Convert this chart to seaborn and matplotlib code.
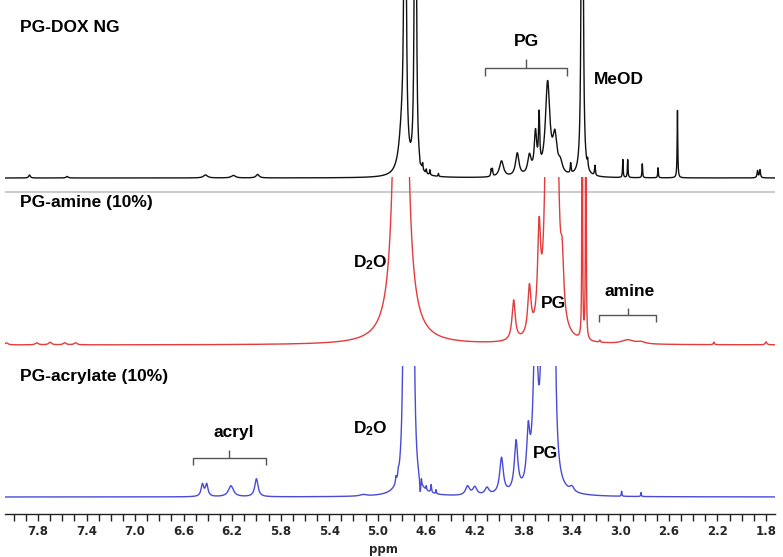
import numpy as np
import matplotlib
matplotlib.use('Agg')
import matplotlib.pyplot as plt
import seaborn as sns

sns.set_style("white")
plt.rcParams['font.family'] = ['Liberation Sans', 'DejaVu Sans']
plt.rcParams['mathtext.fontset'] = 'custom'
plt.rcParams['mathtext.bf'] = 'Liberation Sans:bold'
plt.rcParams['mathtext.rm'] = 'Liberation Sans:bold'

# peak tables: shift (ppm), height, half width (ppm)
dox_shift = [7.87, 7.56, 6.42, 6.19, 5.99, 4.80, 4.775, 4.69, 4.65, 4.63, 4.60, 4.57, 4.50,
             4.065, 4.055, 3.98, 3.85, 3.75, 3.70, 3.67, 3.60, 3.54, 3.495, 3.41,
             3.315, 3.27, 3.21, 2.98, 2.94, 2.82, 2.69, 2.53, 1.87, 1.85]
dox_height = [3, 1.5, 3, 2.5, 3.5, 40, 800, 1000, -4, 6, 4, 5, 3,
              7, 7, 16, 23, 19, 40, 52, 92, 35, 10, 10,
              1500, 8, 10, 18, 18, 14, 10, 68, 7, 8]
dox_width = [0.008, 0.01, 0.02, 0.02, 0.015, 0.03, 0.006, 0.005, 0.004, 0.003, 0.003, 0.003, 0.003,
             0.004, 0.004, 0.02, 0.017, 0.017, 0.012, 0.006, 0.022, 0.02, 0.02, 0.004,
             0.004, 0.004, 0.004, 0.003, 0.003, 0.003, 0.003, 0.003, 0.005, 0.005]

amine_shift = [8.06, 7.81, 7.70, 7.58, 7.49, 4.81,
               3.88, 3.75, 3.67, 3.60, 3.565, 3.53, 3.48, 3.315, 3.285, 3.17,
               2.94, 2.83, 2.23, 1.80]
amine_height = [2, 2, 2.5, 2, 2, 3300,
                40, 48, 93, 350, 60, 300, 52, 1000, 1000, 2,
                4, 2, 2.5, 3]
amine_width = [0.015, 0.015, 0.015, 0.015, 0.015, 0.0165,
               0.016, 0.016, 0.015, 0.019, 0.02, 0.02, 0.015, 0.0015, 0.0015, 0.005,
               0.06, 0.04, 0.005, 0.008]

acr_shift = [6.445, 6.41, 6.21, 6.00, 5.12, 4.85, 4.83, 4.77, 4.775, 4.745, 4.715,
             4.65, 4.64, 4.60, 4.56, 4.52, 4.26, 4.20, 4.10,
             3.98, 3.86, 3.76, 3.70, 3.64, 3.58, 3.55, 3.40, 2.99, 2.83]
acr_height = [12, 12, 11, 18, 1.5, 6, 5, 25, 800, 300, 800,
              -14, 6, 4, 8, 4, 9, 8, 7,
              36, 50, 50, 170, 220, 400, 300, 5, 5, 4]
acr_width = [0.013, 0.013, 0.025, 0.016, 0.03, 0.004, 0.004, 0.01, 0.008, 0.01, 0.008,
             0.005, 0.003, 0.003, 0.004, 0.003, 0.02, 0.02, 0.02,
             0.018, 0.017, 0.015, 0.02, 0.015, 0.015, 0.012, 0.02, 0.003, 0.003]

ppm = np.linspace(8.07, 1.72, 8000)


def spectrum(shift, height, width):
    y = np.zeros_like(ppm)
    for s, h, w in zip(shift, height, width):
        y += h * w**2 / (w**2 + (ppm - s)**2)
    return y


W, H = 783, 557
fig = plt.figure(figsize=(W / 100, H / 100), dpi=100)


def rect(top, bottom):
    return [5 / W, 1 - bottom / H, 770 / W, (bottom - top) / H]


XLIM = (8.072, 1.726)
ax_dox = fig.add_axes(rect(0, 200))
ax_amine = fig.add_axes(rect(177, 362))
ax_acr = fig.add_axes(rect(366, 514))
ax_dox.set_ylim(-22, 178)
ax_amine.set_ylim(-17, 168)
ax_acr.set_ylim(-17, 131)

for ax in (ax_dox, ax_amine, ax_acr):
    ax.set_xlim(*XLIM)
    ax.patch.set_alpha(0)
    for s in ax.spines.values():
        s.set_visible(False)
    ax.set_yticks([])
    ax.set_xticks([])

sns.lineplot(x=ppm, y=spectrum(dox_shift, dox_height, dox_width), ax=ax_dox,
             color='#111111', lw=1, estimator=None, sort=False)
sns.lineplot(x=ppm, y=spectrum(amine_shift, amine_height, amine_width), ax=ax_amine,
             color='#e23c3c', lw=1, estimator=None, sort=False)
sns.lineplot(x=ppm, y=spectrum(acr_shift, acr_height, acr_width), ax=ax_acr,
             color='#4a4ad8', lw=1, estimator=None, sort=False)

ax_dox.axhline(-14, color='#cccccc', lw=1.5)

# bottom ppm axis
ax_acr.spines['bottom'].set_visible(True)
ax_acr.spines['bottom'].set_color('#222222')
ax_acr.spines['bottom'].set_linewidth(1)
major = np.round(np.arange(7.8, 1.79, -0.4), 1)
ax_acr.set_xticks(major)
ax_acr.set_xticks(np.round(np.arange(8.0, 1.72, -0.1), 1), minor=True)
ax_acr.set_xticklabels([f'{v:.1f}' for v in major],
                       fontfamily='DejaVu Sans', fontweight='bold', fontsize=8.5)
ax_acr.tick_params(axis='x', which='both', direction='out', length=5, width=1,
                   color='#222222', pad=3, bottom=True)
ax_acr.set_xlabel('')
fig.text(383 / W, 1 - 549 / H, 'ppm', ha='center', va='center',
         fontfamily='DejaVu Sans', fontweight='bold', fontsize=8.5)

lab = dict(fontsize=12.5, fontweight='bold', color='black')
ax_dox.text(7.948, 151, 'PG-DOX NG', ha='left', va='center', **lab)
ax_amine.text(7.948, 142, 'PG-amine (10%)', ha='left', va='center', **lab)
ax_acr.text(7.948, 120, 'PG-acrylate (10%)', ha='left', va='center', **lab)

ax_dox.text(3.777, 136, 'PG', ha='center', va='center', **lab)
ax_dox.text(3.216, 98, 'MeOD', ha='left', va='center', **lab)
ax_amine.text(5.063, 82, r'$\mathbf{D_2O}$', ha='center', va='center', **lab)
ax_amine.text(3.554, 42, 'PG', ha='center', va='center', **lab)
ax_amine.text(2.92, 53, 'amine', ha='center', va='center', **lab)
ax_acr.text(6.184, 64, 'acryl', ha='center', va='center', **lab)
ax_acr.text(5.063, 68, r'$\mathbf{D_2O}$', ha='center', va='center', **lab)
ax_acr.text(3.62, 43, 'PG', ha='center', va='center', **lab)


def bracket(ax, left, right, mid, y, drop, rise):
    kw = dict(color='#555555', lw=1, solid_capstyle='butt')
    ax.plot([left, left, right, right], [y - drop, y, y, y - drop], **kw)
    ax.plot([mid, mid], [y, y + rise], **kw)


bracket(ax_dox, 4.115, 3.439, 3.777, 110, 8, 9)
bracket(ax_amine, 3.175, 2.705, 2.936, 30, 7, 7)
bracket(ax_acr, 6.522, 5.92, 6.226, 39, 7, 8)

fig.savefig('out.png', dpi=100)
